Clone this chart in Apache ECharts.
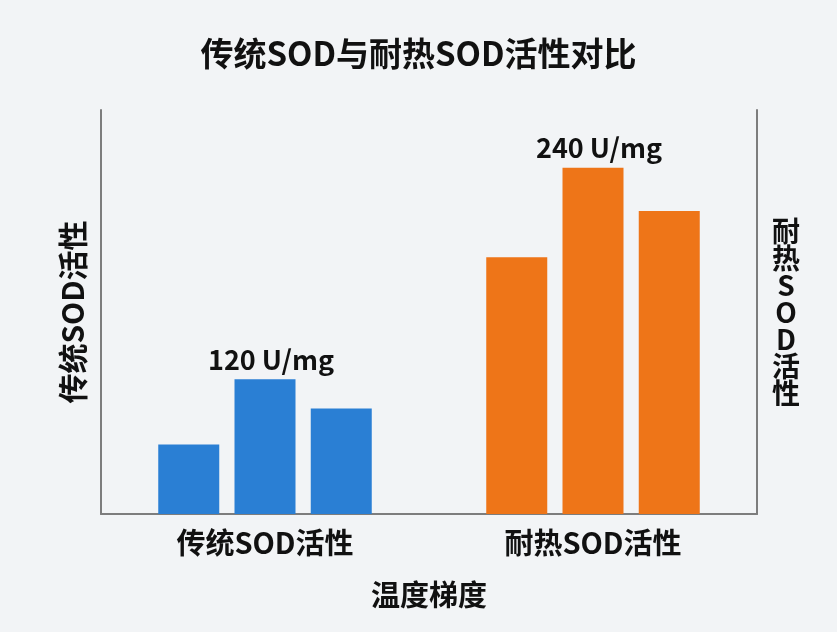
<!DOCTYPE html>
<html>
<head>
<meta charset="utf-8">
<title>传统SOD与耐热SOD活性对比</title>
<script src="https://cdn.jsdelivr.net/npm/echarts@6/dist/echarts.min.js"></script>
<style>
  html, body { margin: 0; padding: 0; background: #f2f4f6; }
  #chart { width: 837px; height: 632px; }
</style>
</head>
<body>
<div id="chart"></div>
<script>
// Data
const categories = ['传统SOD活性', '耐热SOD活性'];
const traditionalValues = [62, 120, 94];   // left axis, U/mg
const heatValues = [178, 240, 210];        // right axis, U/mg
const labelledIndex = 1;                   // only the middle bar carries a value label
const leftMax = 360;
const rightMax = 280;

const FONT = '"Noto Sans CJK SC", "Noto Sans", sans-serif';
const BLUE = '#2a7fd4';
const ORANGE = '#ee7518';
const AXIS_GRAY = '#7d7d7d';

const chart = echarts.init(document.getElementById('chart'));

// Build one series per bar slot; blue sits in the first category, orange in the second
function makeSeries(values, color, catIndex, axisIndex) {
  return values.map((v, i) => ({
    type: 'bar',
    xAxisIndex: axisIndex,
    yAxisIndex: axisIndex,
    data: categories.map((c, k) => (k === catIndex ? v : '-')),
    barWidth: 61,
    barGap: '25%',
    itemStyle: { color: color },
    label: {
      show: i === labelledIndex,
      position: 'top',
      distance: 6,
      offset: [6, 0],
      formatter: '{c} U/mg',
      fontFamily: FONT,
      fontWeight: 'bold',
      fontSize: 27,
      color: '#111'
    }
  }));
}

const hiddenAxis = {
  axisLabel: { show: false },
  axisTick: { show: false },
  splitLine: { show: false }
};

const option = {
  backgroundColor: '#f2f4f6',
  title: {
    text: '传统SOD与耐热SOD活性对比',
    left: 'center',
    top: 32,
    textStyle: {
      fontFamily: FONT,
      fontWeight: 'bold',
      fontSize: 33,
      color: '#111'
    }
  },
  grid: { left: 101, right: 80, top: 110, bottom: 118 },
  xAxis: [
    {
      type: 'category',
      data: categories,
      axisLine: { lineStyle: { color: AXIS_GRAY, width: 2 } },
      axisTick: { show: false },
      axisLabel: {
        margin: 14,
        fontFamily: FONT,
        fontWeight: 'bold',
        fontSize: 29,
        lineHeight: 30,
        color: '#111'
      },
      name: '温度梯度',
      nameLocation: 'middle',
      nameGap: 66,
      nameTextStyle: {
        fontFamily: FONT,
        fontWeight: 'bold',
        fontSize: 29,
        lineHeight: 30,
        color: '#111'
      }
    },
    {
      type: 'category',
      data: categories,
      show: false
    }
  ],
  yAxis: [
    Object.assign({
      type: 'value',
      min: 0,
      max: leftMax,
      position: 'left',
      axisLine: { show: true, lineStyle: { color: AXIS_GRAY, width: 2 } },
      name: '传统SOD活性',
      nameLocation: 'middle',
      nameRotate: 90,
      nameGap: 13,
      nameTextStyle: {
        fontFamily: FONT,
        fontWeight: 'bold',
        fontSize: 30,
        color: '#111'
      }
    }, hiddenAxis),
    Object.assign({
      type: 'value',
      min: 0,
      max: rightMax,
      position: 'right',
      axisLine: { show: true, lineStyle: { color: AXIS_GRAY, width: 2 } },
      name: '耐\n热\nS\nO\nD\n活\n性',
      nameLocation: 'middle',
      nameRotate: 0,
      nameGap: 29,
      nameTextStyle: {
        fontFamily: FONT,
        fontWeight: 'bold',
        fontSize: 28,
        lineHeight: 27,
        align: 'center',
        color: '#111'
      }
    }, hiddenAxis)
  ],
  series: [
    ...makeSeries(traditionalValues, BLUE, 0, 0),
    ...makeSeries(heatValues, ORANGE, 1, 1)
  ]
};

chart.setOption(option);
</script>
</body>
</html>
